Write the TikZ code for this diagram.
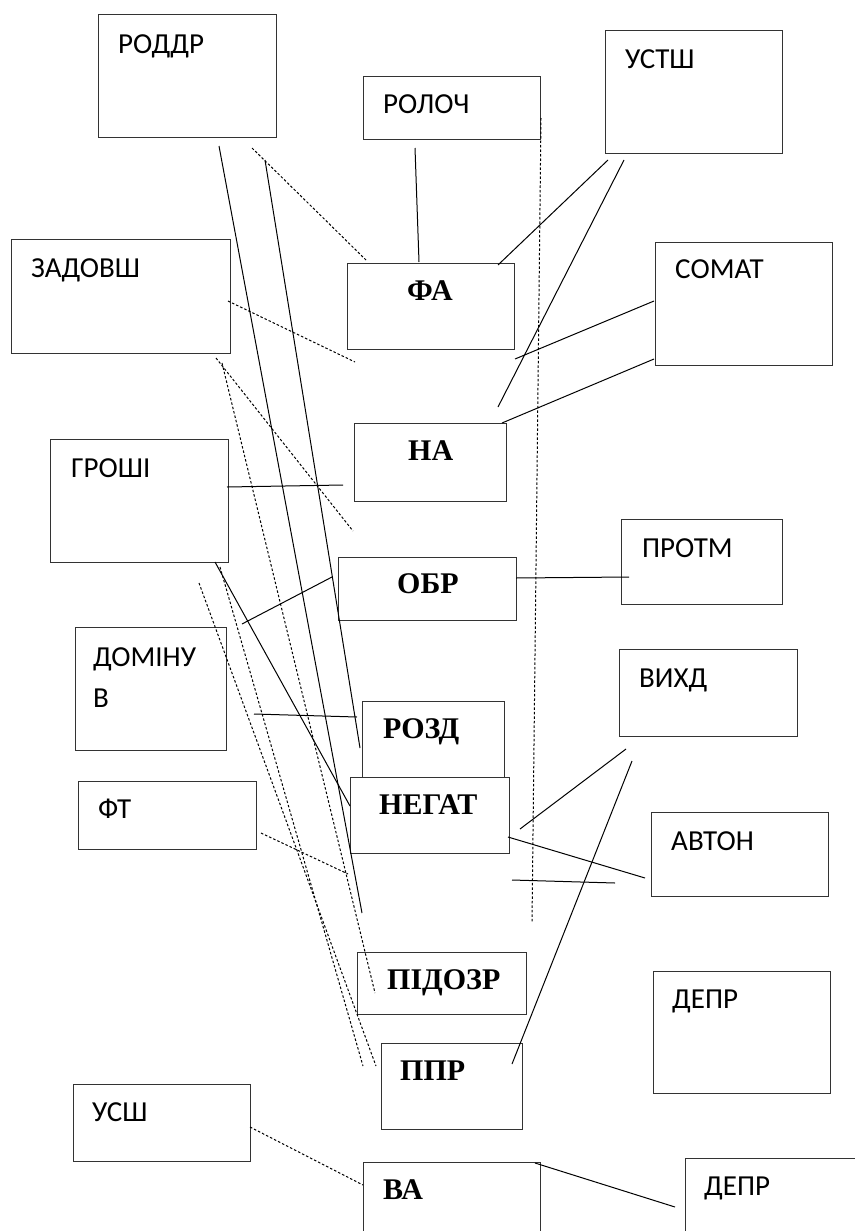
\documentclass[tikz,border=0pt]{standalone}
\usepackage{fontspec}
\newfontfamily\calib{Carlito}
\newfontfamily\tnr{Liberation Serif}

\begin{document}
\begin{tikzpicture}
[x=1pt,y=-1pt,
box/.style={draw=black!80,line width=1.1pt,fill=white,anchor=north west,inner sep=0pt},
lbl/.style={font=\calib\fontsize{29}{41}\selectfont,anchor=base west,inner sep=0pt},
blbl/.style={font=\tnr\bfseries\fontsize{30}{34}\selectfont,anchor=base west,inner sep=0pt},
link/.style={line width=1pt},
dlink/.style={line width=1pt,dash pattern=on 2.5pt off 2pt}]
\useasboundingbox (0,0) rectangle (854,1231);
%%
% left and right boxes
%%
\node[box,minimum width=178pt,minimum height=123pt] (roddr) at (98,14) {};
\node[box,minimum width=177pt,minimum height=63pt] (roloch) at (363,76) {};
\node[box,minimum width=177pt,minimum height=123pt] (ustsh) at (605,30) {};
\node[box,minimum width=219pt,minimum height=114pt] (zadovsh) at (11,239) {};
\node[box,minimum width=177pt,minimum height=123pt] (somat) at (655,242) {};
\node[box,minimum width=178pt,minimum height=123pt] (groshi) at (50,439) {};
\node[box,minimum width=161pt,minimum height=85pt] (protm) at (621,519) {};
\node[box,minimum width=151pt,minimum height=123pt] (dominuv) at (75,627) {};
\node[box,minimum width=178pt,minimum height=87pt] (vykhd) at (619,649) {};
\node[box,minimum width=178pt,minimum height=68pt] (ft) at (78,781) {};
\node[box,minimum width=177pt,minimum height=84pt] (avton) at (651,812) {};
\node[box,minimum width=177pt,minimum height=122pt] (deprA) at (653,971) {};
\node[box,minimum width=177pt,minimum height=77pt] (usch) at (73,1084) {};
\node[box,minimum width=177pt,minimum height=100pt] (deprB) at (685,1158) {};
%%
% middle column
%%
\node[box,minimum width=167pt,minimum height=86pt] (fa) at (347,263) {};
\node[box,minimum width=152pt,minimum height=78pt] (na) at (354,423) {};
\node[box,minimum width=178pt,minimum height=63pt] (obr) at (338,557) {};
\node[box,minimum width=142pt,minimum height=76pt] (rozd) at (362,701) {};
\node[box,minimum width=159pt,minimum height=76pt] (negat) at (350,777) {};
\node[box,minimum width=169pt,minimum height=62pt] (pidozr) at (357,952) {};
\node[box,minimum width=141pt,minimum height=86pt] (ppr) at (381,1043) {};
\node[box,minimum width=177pt,minimum height=100pt] (va) at (363,1162) {};
%%
% texts
%%
\node[lbl] (roddr-t) at ([shift={(20,39)}]roddr.north west) {РОДДР};
\node[lbl] (roloch-t) at ([shift={(20,37)}]roloch.north west) {РОЛОЧ};
\node[lbl] (ustsh-t) at ([shift={(20,38)}]ustsh.north west) {УСТШ};
\node[lbl] (zadovsh-t) at ([shift={(20,38)}]zadovsh.north west) {ЗАДОВШ};
\node[lbl] (somat-t) at ([shift={(20,36)}]somat.north west) {СОМАТ};
\node[lbl] (groshi-t) at ([shift={(21,38)}]groshi.north west) {ГРОШІ};
\node[lbl] (protm-t) at ([shift={(21,38)}]protm.north west) {ПРОТМ};
\node[lbl,anchor=north west,align=left] (dominuv-t) at ([shift={(18,20)}]dominuv.north west) {ДОМІНУ\\В};
\node[lbl] (vykhd-t) at ([shift={(20,38)}]vykhd.north west) {ВИХД};
\node[lbl] (ft-t) at ([shift={(20,37)}]ft.north west) {ФТ};
\node[lbl] (avton-t) at ([shift={(20,38)}]avton.north west) {АВТОН};
\node[lbl] (deprA-t) at ([shift={(19,37)}]deprA.north west) {ДЕПР};
\node[lbl] (usch-t) at ([shift={(19,37)}]usch.north west) {УСШ};
\node[lbl] (deprB-t) at ([shift={(19,37)}]deprB.north west) {ДЕПР};
\node[blbl] (fa-t) at ([shift={(60,37)}]fa.north west) {ФА};
\node[blbl] (na-t) at ([shift={(54,37)}]na.north west) {НА};
\node[blbl] (obr-t) at ([shift={(59,36)}]obr.north west) {ОБР};
\node[blbl] (rozd-t) at ([shift={(21,37)}]rozd.north west) {РОЗД};
\node[blbl] (negat-t) at ([shift={(29,37)}]negat.north west) {НЕГАТ};
\node[blbl] (pidozr-t) at ([shift={(30,37)}]pidozr.north west) {ПІДОЗР};
\node[blbl] (ppr-t) at ([shift={(19,37)}]ppr.north west) {ППР};
\node[blbl] (va-t) at ([shift={(20,37)}]va.north west) {ВА};
%%
% solid links
%%
\draw[link] ([shift={(52,72)}]roloch.north west) -- ([shift={(72,-1)}]fa.north west);
\draw[link] ([shift={(3,130)}]ustsh.north west) -- ([shift={(151,2)}]fa.north west);
\draw[link] ([shift={(19,130)}]ustsh.north west) -- ([shift={(144,-16)}]na.north west);
\draw[link] ([shift={(-1,59)}]somat.north west) -- ([shift={(168,96)}]fa.north west);
\draw[link] ([shift={(-1,117)}]somat.north west) -- ([shift={(148,0)}]na.north west);
\draw[link] ([shift={(177,48)}]groshi.north west) -- ([shift={(-11,62)}]na.north west);
\draw[link] ([shift={(178,21)}]obr.north west) -- ([shift={(8,58)}]protm.north west);
\draw[link] ([shift={(-6,20)}]obr.north west) -- ([shift={(167,-3)}]dominuv.north west);
\draw[link] ([shift={(179,87)}]dominuv.north west) -- ([shift={(-5,16)}]rozd.north west);
\draw[link] ([shift={(165,123)}]groshi.north west) -- ([shift={(0,29)}]negat.north west);
\draw[link] ([shift={(121,132)}]roddr.north west) -- ([shift={(12,136)}]negat.north west);
\draw[link] ([shift={(167,146)}]roddr.north west) -- ([shift={(-2,47)}]rozd.north west);
\draw[link] ([shift={(7,100)}]vykhd.north west) -- ([shift={(170,52)}]negat.north west);
\draw[link] ([shift={(13,112)}]vykhd.north west) -- ([shift={(131,21)}]ppr.north west);
\draw[link] ([shift={(158,60)}]negat.north west) -- ([shift={(-6,66)}]avton.north west);
\draw[link] ([shift={(162,103)}]negat.north west) -- ([shift={(-36,71)}]avton.north west);
\draw[link] ([shift={(172,1)}]va.north west) -- ([shift={(-10,49)}]deprB.north west);
%%
% dotted links
%%
\draw[dlink] ([shift={(154,134)}]roddr.north west) -- ([shift={(19,-3)}]fa.north west);
\draw[dlink] ([shift={(217,62)}]zadovsh.north west) -- ([shift={(8,99)}]fa.north west);
\draw[dlink] ([shift={(205,119)}]zadovsh.north west) -- ([shift={(-1,108)}]na.north west);
\draw[dlink] ([shift={(211,124)}]zadovsh.north west) -- ([shift={(18,41)}]pidozr.north west);
\draw[dlink] ([shift={(149,144)}]groshi.north west) -- ([shift={(-5,23)}]ppr.north west);
\draw[dlink] ([shift={(170,128)}]groshi.north west) -- ([shift={(-18,23)}]ppr.north west);
\draw[dlink] ([shift={(183,52)}]ft.north west) -- ([shift={(-2,97)}]negat.north west);
\draw[dlink] ([shift={(177,43)}]usch.north west) -- ([shift={(0,23)}]va.north west);
\draw[dlink] ([shift={(178,42)}]roloch.north west) -- ([shift={(182,146)}]negat.north west);
\end{tikzpicture}
\end{document}
